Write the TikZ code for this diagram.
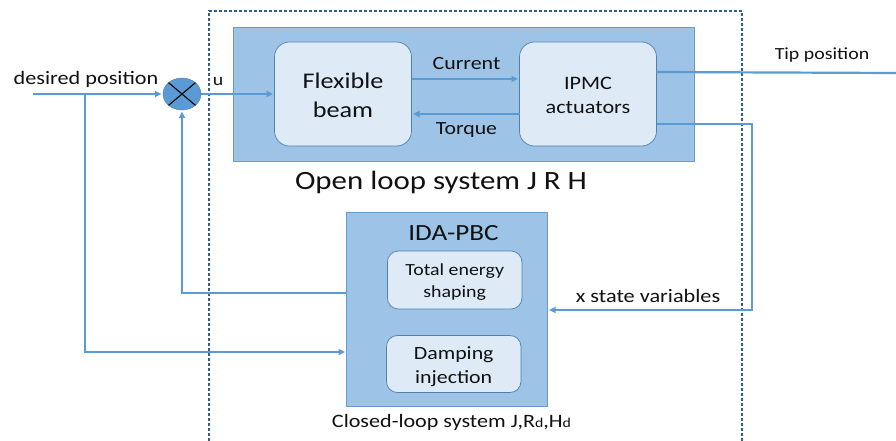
\documentclass[tikz,border=0pt]{standalone}
\usepackage{fontspec}
\setmainfont{Carlito}
\usetikzlibrary{arrows.meta,shapes.geometric}
\definecolor{boxfill}{HTML}{9DC3E6}
\definecolor{boxedge}{HTML}{6C9BC8}
\definecolor{innerfill}{HTML}{DEEAF6}
\definecolor{inneredge}{HTML}{4F81AE}
\definecolor{wire}{HTML}{5B9BD5}
\definecolor{dashcol}{HTML}{2F5F8F}
\definecolor{txt}{HTML}{111111}
\tikzset{
  outerbox/.style={draw=boxedge,fill=boxfill,line width=0.9pt,minimum width=#1,inner sep=0pt,outer sep=0pt},
  innerbox/.style={draw=inneredge,fill=innerfill,line width=0.7pt,rounded corners=15pt,inner sep=0pt,outer sep=0pt,text=txt,align=center},
  label/.style={text=txt,inner sep=0pt,outer sep=0pt,xscale=1.17,transform shape,align=center},
  wireline/.style={draw=wire,line width=2.2pt},
  wirearrow/.style={wireline,-{Triangle[length=6.5pt,width=6pt]},shorten >=1.5pt},
  frame/.style={draw=dashcol,line width=1.6pt,dash pattern=on 3pt off 2pt},
}
\begin{document}
\begin{tikzpicture}[x=1pt,y=-1pt]
\useasboundingbox (0,0) rectangle (896,441);
\coordinate (fbl) at (209,441);
\coordinate (ftl) at (209,11);
\coordinate (ftr) at (742,11);
\coordinate (fbr) at (742,441);
\node[outerbox=461pt,minimum height=134pt] (open) at (463.5,94) {};
\node[innerbox,minimum width=137pt,minimum height=104pt] (beam) at (343,94) {};
\node[label,font=\fontsize{22.4}{29}\selectfont] (beamt) at (343,95.5) {Flexible\\beam};
\node[innerbox,minimum width=137pt,minimum height=104pt] (ipmc) at (588,94) {};
\node[label,font=\fontsize{19}{24}\selectfont] (ipmct) at (588,95.5) {IPMC\\actuators};
\node[outerbox=201pt,minimum height=194pt] (ida) at (447,309) {};
\node[innerbox,minimum width=134.5pt,minimum height=58pt,rounded corners=11pt] (energy) at (454.7,280) {};
\node[label,font=\fontsize{17}{21.5}\selectfont] (energyt) at (454.7,282) {Total energy\\shaping};
\node[innerbox,minimum width=134.5pt,minimum height=57pt,rounded corners=11pt] (damp) at (453.7,364) {};
\node[label,font=\fontsize{18.7}{24}\selectfont] (dampt) at (453.7,367) {Damping\\injection};
\node[ellipse,draw=wire!80!black,fill=wire,minimum width=38pt,minimum height=32pt,inner sep=0pt,outer sep=0pt] (sum) at (182,94) {};
\draw[black,line width=1.1pt] (sum.north west) -- (sum.south east) (sum.north east) -- (sum.south west);
\node[label,font=\fontsize{19}{22}\selectfont] (tdes) at (86,79.5) {desired position};
\node[label,font=\fontsize{17}{20}\selectfont] (tu) at (218,82) {u};
\node[label,font=\fontsize{18.7}{22}\selectfont] (tcur) at (466.5,63.5) {Current};
\node[label,font=\fontsize{18.6}{22}\selectfont] (ttor) at (466.5,130) {Torque};
\node[label,font=\fontsize{17}{20}\selectfont] (ttip) at (822,55) {Tip position};
\node[label,font=\fontsize{26.4}{30}\selectfont] (topen) at (441,182) {Open loop system J R H};
\node[label,font=\fontsize{23.2}{27}\selectfont] (tida) at (453.5,233.5) {IDA-PBC};
\node[label,font=\fontsize{19}{22}\selectfont] (tx) at (648,295.5) {x state variables};
\node[label,font=\fontsize{18.9}{22}\selectfont] (tclosed) at (451.5,422.5) {Closed-loop system J,R{\fontsize{13.5}{15}\selectfont d},H{\fontsize{13.5}{15}\selectfont d}};
\draw[frame] (fbl) -- (ftl) -- (ftr) -- (fbr);
\coordinate (start) at (33,94);
\coordinate (branch) at (85,94);
\coordinate (dampin) at (85,352);
\coordinate (fbcorner) at (182,293);
\coordinate (tipend) at (896,73);
\coordinate (xa) at (752,124);
\coordinate (xb) at (752,310);
\draw[wirearrow] (start) -- (sum.west);
\draw[wirearrow] (sum.east) -- (beam.west);
\draw[wirearrow] (beam.east |- 0,79) -- (ipmc.west |- 0,79);
\draw[wirearrow] (ipmc.west |- 0,114) -- (beam.east |- 0,114);
\draw[wireline] (ipmc.east |- 0,72) -- (tipend);
\draw[wirearrow] (ipmc.east |- xa) -- (xa) -- (xb) -- (ida.east |- xb);
\draw[wirearrow] (ida.west |- fbcorner) -- (fbcorner) -- (sum.south);
\draw[wirearrow] (branch) -- (dampin) -- (ida.west |- dampin);
\end{tikzpicture}
\end{document}
